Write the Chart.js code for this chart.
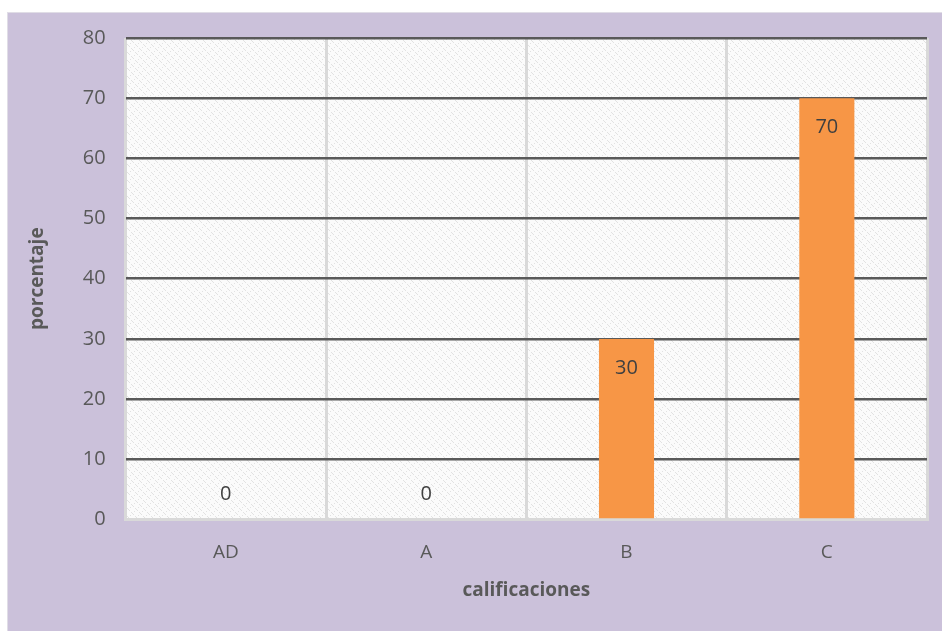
<!DOCTYPE html>
<html>
<head>
<meta charset="utf-8">
<script src="https://cdn.jsdelivr.net/npm/chart.js@4/dist/chart.umd.min.js"></script>
<style>
  html, body { margin: 0; padding: 0; background: #ffffff; }
  #wrap {
    position: absolute; left: 7px; top: 12px; width: 935px; height: 619px;
    background: #cbc1da; border-left: 1px solid #e0dde6; border-top: 1px solid #e0dde6;
  }
</style>
</head>
<body>
<div id="wrap"><canvas id="chart"></canvas></div>
<script>
// Data
const categories = ['AD', 'A', 'B', 'C'];
const percentages = [0, 0, 30, 70];
const yTicks = [0, 10, 20, 30, 40, 50, 60, 70, 80];

const FONT = '"Open Sans", sans-serif';
const TEXT = '#595959';

// light crosshatch texture for the plot area
function makePattern(ctx) {
  const c = document.createElement('canvas');
  c.width = 8; c.height = 8;
  const p = c.getContext('2d');
  p.fillStyle = '#fbfbfb';
  p.fillRect(0, 0, 8, 8);
  p.fillStyle = '#e2e2e2';
  [[0,0],[1,1],[4,4],[5,5],[2,6],[6,2],[3,3],[7,7]].forEach(([x, y]) => p.fillRect(x, y, 1, 1));
  return ctx.createPattern(c, 'repeat');
}

const plotBackground = {
  id: 'plotBackground',
  beforeDraw(chart) {
    const { ctx, chartArea: a } = chart;
    ctx.save();
    ctx.fillStyle = makePattern(ctx);
    ctx.fillRect(a.left, a.top, a.right - a.left, a.bottom - a.top);
    ctx.restore();
  }
};

// value labels: inside the top of the bar, or just above the axis for zero
const valueLabels = {
  id: 'valueLabels',
  afterDatasetsDraw(chart) {
    const { ctx } = chart;
    const meta = chart.getDatasetMeta(0);
    ctx.save();
    ctx.font = '20px ' + FONT;
    ctx.fillStyle = '#404040';
    ctx.textAlign = 'center';
    ctx.textBaseline = 'middle';
    meta.data.forEach((bar, i) => {
      const v = percentages[i];
      const y = v > 0 ? bar.y + 29 : bar.base - 25;
      ctx.fillText(String(v), bar.x, y);
    });
    ctx.restore();
  }
};

new Chart(document.getElementById('chart'), {
  type: 'bar',
  data: {
    labels: categories,
    datasets: [{
      label: 'porcentaje',
      data: percentages,
      backgroundColor: '#f79646',
      borderWidth: 0,
      barPercentage: 0.275,
      categoryPercentage: 1
    }]
  },
  options: {
    responsive: true,
    maintainAspectRatio: false,
    animation: false,
    layout: { padding: { top: 20, right: 16, left: 14, bottom: 26 } },
    plugins: {
      legend: { display: false },
      tooltip: { enabled: false }
    },
    scales: {
      x: {
        grid: { color: '#d9d9d9', lineWidth: 3, drawTicks: false, offset: true },
        border: { color: '#d9d9d9', width: 3 },
        ticks: { color: TEXT, font: { family: FONT, size: 19 }, padding: 22 },
        title: {
          display: true, text: 'calificaciones', color: TEXT,
          font: { family: FONT, size: 19, weight: 'bold' }, padding: { top: -7 }
        }
      },
      y: {
        min: 0, max: 80,
        afterBuildTicks(axis) { axis.ticks = yTicks.map(v => ({ value: v })); },
        grid: {
          color: c => c.tick && c.tick.value === 0 ? '#d9d9d9' : '#595959',
          lineWidth: 2.5, drawTicks: false
        },
        border: { display: false },
        ticks: { color: TEXT, font: { family: FONT, size: 20, lineHeight: 0.5 }, padding: 20 },
        title: {
          display: true, text: 'porcentaje', color: TEXT,
          font: { family: FONT, size: 19, weight: 'bold' }, padding: { bottom: 14 }
        }
      }
    }
  },
  plugins: [plotBackground, valueLabels]
});
</script>
</body>
</html>
